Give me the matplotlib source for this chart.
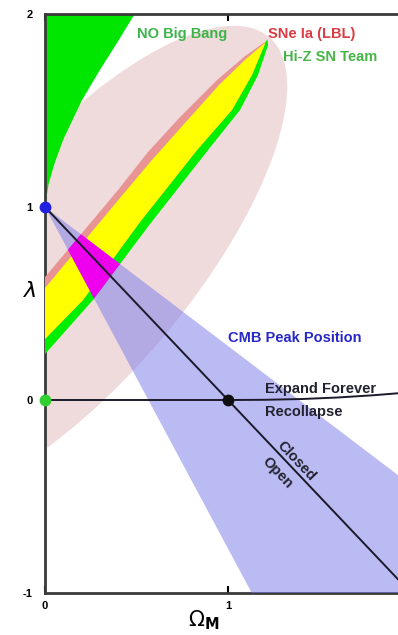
import matplotlib
matplotlib.use('Agg')
import matplotlib.pyplot as plt
from matplotlib.patches import Polygon, Ellipse
import matplotlib.transforms as mtransforms

plt.rcParams['font.family'] = ['Liberation Sans', 'DejaVu Sans']

# no big bang region boundary (omega_m, lambda)
nobb_om = [0.0, 0.02, 0.05, 0.1, 0.2, 0.3, 0.4, 0.49]
nobb_lam = [1.0, 1.12, 1.22, 1.35, 1.55, 1.71, 1.86, 2.0]

# supernova contours, edges run from omega_m = 0 up to the tip
lbl_up_om = [0.0, 0.399, 0.563, 0.738, 0.940, 1.093, 1.202, 1.205]
lbl_up_lam = [0.637, 1.088, 1.285, 1.466, 1.658, 1.782, 1.855, 1.862]
lbl_lo_om = [0.0, 0.208, 0.519, 0.831, 1.022, 1.131, 1.202]
lbl_lo_lam = [0.316, 0.518, 0.922, 1.295, 1.503, 1.684, 1.845]

hiz_up_om = [0.0, 0.410, 0.585, 0.760, 0.951, 1.098, 1.202, 1.215]
hiz_up_lam = [0.580, 1.047, 1.244, 1.430, 1.632, 1.767, 1.850, 1.870]
hiz_lo_om = [0.0, 0.262, 0.574, 0.891, 1.066, 1.164, 1.219]
hiz_lo_lam = [0.238, 0.518, 0.912, 1.295, 1.503, 1.684, 1.839]

# CMB peak position wedge
cmb_om = [0.0, 1.93, 1.93, 1.13]
cmb_lam = [1.0, -0.39, -1.0, -1.0]

# flat universe line and expand / recollapse boundary
flat_om = [0.0, 2.0]
flat_lam = [1.0, -1.0]
recol_om = [0.0, 1.0, 1.2, 1.4, 1.6, 1.8, 1.93]
recol_lam = [0.0, 0.0, 0.001, 0.005, 0.013, 0.025, 0.035]

dots_om = [0.0, 0.0, 1.0]
dots_lam = [1.0, 0.0, 0.0]
dots_col = ['#2020e0', '#30d030', '#101010']

ytick_vals = [2, 1, 0, -1]
ytick_txt = ['2', '1', '0', '-1']
xtick_vals = [0, 1]
xtick_txt = ['0', '1']

# axis scale, screen pixels per unit
PX_X, PX_Y = 183, 193


def edge_poly(up_x, up_y, lo_x, lo_y):
    pts = list(zip(up_x, up_y)) + list(zip(lo_x, lo_y))[::-1]
    return pts


fig = plt.figure(figsize=(3.98, 6.35), dpi=100)
ax = fig.add_axes([45 / 398, 42 / 635, 1 - 45 / 398, 579 / 635])
ax.set_xlim(0, 353 / PX_X)
ax.set_ylim(-1, 2)

# broad supernova ellipse, laid out in screen units then mapped to data
to_data = mtransforms.Affine2D().scale(1 / PX_X, 1 / PX_Y) + ax.transData
ax.add_patch(Ellipse((32.9, 135.6), 594, 224, angle=50,
                     facecolor='#efdbdb', edgecolor='none', zorder=1,
                     transform=to_data))

# no big bang
nb = list(zip(nobb_om, nobb_lam)) + [(0.0, 2.0)]
ax.add_patch(Polygon(nb, closed=True, facecolor='#00e600', edgecolor='none', zorder=2))

# Hi-Z, LBL and their overlap
ax.add_patch(Polygon(edge_poly(hiz_up_om, hiz_up_lam, hiz_lo_om, hiz_lo_lam),
                     facecolor='#00ee00', edgecolor='none', zorder=3))
ax.add_patch(Polygon(edge_poly(lbl_up_om, lbl_up_lam, lbl_lo_om, lbl_lo_lam),
                     facecolor='#e89494', edgecolor='none', zorder=4))
ax.add_patch(Polygon(edge_poly(hiz_up_om[:-1], hiz_up_lam[:-1], lbl_lo_om, lbl_lo_lam),
                     facecolor='#ffff00', edgecolor='none', zorder=5))

# CMB wedge, magenta where it crosses the supernova bands
wedge = Polygon(list(zip(cmb_om, cmb_lam)), facecolor='#7878eb', alpha=0.5,
                edgecolor='none', zorder=6)
ax.add_patch(wedge)
band = Polygon(edge_poly(lbl_up_om, lbl_up_lam, hiz_lo_om, hiz_lo_lam),
               facecolor='#ee00ee', edgecolor='none', zorder=7)
ax.add_patch(band)
band.set_clip_path(wedge)

ax.plot(flat_om, flat_lam, color='#1a1a2a', lw=1.4, zorder=8)
ax.plot(recol_om, recol_lam, color='#1a1a2a', lw=1.4, zorder=8)
for x, y, c in zip(dots_om, dots_lam, dots_col):
    ax.plot(x, y, 'o', color=c, ms=8.5, mec='none', zorder=9, clip_on=False)

lab = dict(fontsize=10.5, fontweight='bold', va='center', ha='left', zorder=10)
ax.text(0.503, 1.896, 'NO Big Bang', color='#3cb44a', **lab)
ax.text(1.219, 1.896, 'SNe Ia (LBL)', color='#dc3c46', **lab)
ax.text(1.30, 1.777, 'Hi-Z SN Team', color='#46b446', **lab)
ax.text(1.0, 0.321, 'CMB Peak Position', color='#2828c8', **lab)
ax.text(1.202, 0.057, 'Expand Forever', color='#222230', **lab)
ax.text(1.202, -0.062, 'Recollapse', color='#222230', **lab)
rot = dict(fontsize=10.5, fontweight='bold', ha='center', va='center',
           rotation=-46.5, color='#222230', zorder=10)
ax.text(1.372, -0.316, 'Closed', **rot)
ax.text(1.268, -0.378, 'Open', **rot)

# frame
for s in ['left', 'top', 'bottom']:
    ax.spines[s].set_linewidth(2)
    ax.spines[s].set_color('#3a3a3a')
ax.spines['right'].set_visible(False)
ax.set_yticks(ytick_vals)
ax.set_yticklabels(ytick_txt, fontsize=8, fontweight='bold')
ax.set_xticks(xtick_vals)
ax.set_xticklabels(xtick_txt, fontsize=8, fontweight='bold')
ax.tick_params(axis='y', length=0, pad=9)
ax.tick_params(axis='x', direction='in', length=5, width=1.5, top=True, pad=6)

trans = mtransforms.blended_transform_factory(ax.transData, fig.transFigure)
ax.text(0.869, 15 / 635, r'$\Omega_\mathbf{M}$', transform=trans, fontsize=15,
        ha='center', va='center')
trans_y = mtransforms.blended_transform_factory(fig.transFigure, ax.transData)
ax.text(30 / 398, 0.56, r'$\lambda$', transform=trans_y, fontsize=16,
        ha='center', va='center')

fig.savefig('out.png', dpi=100)
